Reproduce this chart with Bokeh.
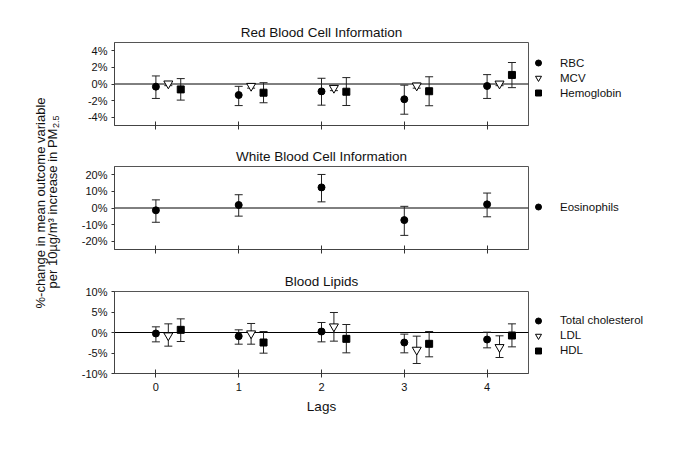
import math
from bokeh.plotting import figure
from bokeh.models import (ColumnDataSource, Whisker, TeeHead, Span, FixedTicker,
                          PrintfTickFormatter, Legend, LegendItem, Label,
                          CustomLabelingPolicy)
from bokeh.transform import dodge
from bokeh.layouts import row, column
from bokeh.embed import file_html
from bokeh.resources import INLINE

FONT = "Liberation Sans"

# ---------------- data ----------------
lags = [0, 1, 2, 3, 4]
lag_labels = ["0", "1", "2", "3", "4"]

rbc = [-0.32, -1.33, -0.89, -1.84, -0.24]
rbc_lo = [-1.74, -2.60, -2.55, -3.64, -1.74]
rbc_hi = [0.97, -0.28, 0.69, -0.14, 1.13]
mcv = [0.05, -0.24, -0.48, -0.20, 0.04]
mcv_lo = [-0.20, -0.50, -0.80, -0.50, -0.20]
mcv_hi = [0.30, 0.05, -0.20, 0.10, 0.25]
hgb = [-0.65, -1.05, -0.93, -0.87, 1.09]
hgb_lo = [-1.94, -2.26, -2.59, -2.62, -0.44]
hgb_hi = [0.65, 0.16, 0.77, 0.87, 2.59]

eos = [-1.4, 1.8, 12.4, -7.3, 2.2]
eos_lo = [-8.6, -4.9, 3.7, -16.5, -5.3]
eos_hi = [4.9, 8.0, 20.2, 1.0, 9.0]

tc = [-0.24, -0.90, 0.24, -2.44, -1.71]
tc_lo = [-2.28, -2.85, -2.28, -4.96, -3.74]
tc_hi = [1.38, 0.65, 2.44, -0.40, 0.08]
ldl = [-0.73, -0.24, 1.46, -4.23, -3.58]
ldl_lo = [-3.33, -2.85, -2.11, -7.56, -6.10]
ldl_hi = [2.11, 2.20, 4.88, -0.89, -0.81]
hdl = [0.65, -2.44, -1.55, -2.76, -0.73]
hdl_lo = [-2.20, -5.04, -4.96, -5.93, -3.50]
hdl_hi = [3.33, 0.24, 1.95, 0.24, 2.11]

rbc_ticks = [-4, -2, 0, 2, 4]
wbc_ticks = [-20, -10, 0, 10, 20]
lip_ticks = [-10, -5, 0, 5, 10]

MARKERS = ["circle", "inverted_triangle", "square"]
SHIFT = [0.0, 0.15, 0.30]
SIZES = [7, 9, 7]
FILLS = ["black", "white", "black"]

FRAME_W = 414
RIGHT = 140


def make_panel(title, yrange, yticks, series, left, top, bottom, frame_h,
               show_labels, legend_vy):
    p = figure(frame_width=FRAME_W, frame_height=frame_h,
               x_range=(-0.5, 4.5), y_range=yrange,
               output_backend="svg", toolbar_location=None,
               min_border_left=left, min_border_right=RIGHT,
               min_border_top=top, min_border_bottom=bottom)
    p.title.text = title
    p.title.align = "center"
    p.title.text_font = FONT
    p.title.text_font_size = "13.5px"
    p.title.text_font_style = "normal"
    p.title.text_color = "#111111"
    p.title.standoff = 6

    p.grid.visible = False
    p.outline_line_color = "#555555"
    p.outline_line_width = 1

    p.add_layout(Span(location=0, dimension="width", line_color="black",
                      line_width=1, level="underlay"))

    items = []
    for i, (name, vals, lo, hi) in enumerate(series):
        src = ColumnDataSource(dict(lag=lags, v=vals, lo=lo, hi=hi))
        w = Whisker(base=dodge("lag", SHIFT[i]), upper="hi", lower="lo",
                    source=src, dimension="height", line_color="#222222",
                    line_width=1, level="underlay",
                    upper_head=TeeHead(size=8, line_color="#222222", line_width=1),
                    lower_head=TeeHead(size=8, line_color="#222222", line_width=1))
        p.add_layout(w)
        r = p.scatter(x=dodge("lag", SHIFT[i]), y="v", source=src,
                      marker=MARKERS[i], size=SIZES[i], fill_color=FILLS[i],
                      line_color="black", line_width=1)
        items.append(LegendItem(label=name, renderers=[r]))

    leg = Legend(items=items, location=(0, legend_vy), padding=4, margin=0,
                 spacing=0, glyph_width=20, glyph_height=15, label_height=15,
                 label_standoff=12, border_line_color=None,
                 background_fill_alpha=0, label_text_font=FONT,
                 label_text_font_size="11.5px", label_text_color="#111111")
    p.add_layout(leg, "right")

    xa = p.xaxis[0]
    xa.ticker = FixedTicker(ticks=lags)
    xa.major_label_overrides = {l: t for l, t in zip(lags, lag_labels)}
    xa.major_tick_in = 4
    xa.major_tick_out = 4
    xa.minor_tick_line_color = None
    xa.axis_line_color = "#444444"
    xa.major_tick_line_color = "#333333"
    xa.major_label_text_font = FONT
    xa.major_label_text_font_size = "11px"
    xa.major_label_text_color = "#111111"
    if show_labels:
        xa.major_label_standoff = 5
        xa.axis_label = "Lags"
        xa.axis_label_text_font = FONT
        xa.axis_label_text_font_size = "13.5px"
        xa.axis_label_text_font_style = "normal"
        xa.axis_label_standoff = 5
        xa.axis_label_text_color = "#111111"
    else:
        # tick marks only, no labels on the upper panels
        xa.major_label_text_font_size = "1px"
        xa.major_label_standoff = 0
        xa.major_label_policy = CustomLabelingPolicy(code="return new Set()")

    ya = p.yaxis[0]
    ya.ticker = FixedTicker(ticks=yticks)
    ya.formatter = PrintfTickFormatter(format="%d%%")
    ya.major_tick_in = 0
    ya.major_tick_out = 3
    ya.minor_tick_line_color = None
    ya.axis_line_color = "#444444"
    ya.major_tick_line_color = "#333333"
    ya.major_label_text_font = FONT
    ya.major_label_text_font_size = "11px"
    ya.major_label_text_color = "#111111"
    ya.major_label_standoff = 4
    return p


p1 = make_panel("Red Blood Cell Information", (-5, 5), rbc_ticks,
                [("RBC", rbc, rbc_lo, rbc_hi), ("MCV", mcv, mcv_lo, mcv_hi),
                 ("Hemoglobin", hgb, hgb_lo, hgb_hi)],
                left=45, top=42, bottom=10, frame_h=83, show_labels=False,
                legend_vy=25)
p2 = make_panel("White Blood Cell Information", (-25, 25), wbc_ticks,
                [("Eosinophils", eos, eos_lo, eos_hi)],
                left=45, top=31, bottom=10, frame_h=83, show_labels=False,
                legend_vy=35)
p3 = make_panel("Blood Lipids", (-10, 10), lip_ticks,
                [("Total cholesterol", tc, tc_lo, tc_hi), ("LDL", ldl, ldl_lo, ldl_hi),
                 ("HDL", hdl, hdl_lo, hdl_hi)],
                left=46, top=32, bottom=45, frame_h=82, show_labels=True,
                legend_vy=15.5)

TOTAL_H = (42 + 83 + 10) + (31 + 83 + 10) + (32 + 82 + 45)
lab = figure(width=68, height=TOTAL_H, x_range=(0, 68), y_range=(0, TOTAL_H),
             output_backend="svg", toolbar_location=None,
             x_axis_location=None, y_axis_location=None, min_border=0)
lab.grid.visible = False
lab.outline_line_color = None

# page y -> label-figure y
def py(page_y):
    return TOTAL_H - page_y

line1 = "%-change in mean outcome variable"
line2 = "per 10\u00b5g/m\u00b3 increase in PM"
sub = "2.5"
lab.add_layout(Label(x=39.5, y=py(308), text=line1, angle=math.pi / 2,
                     text_align="left", text_baseline="middle",
                     text_font=FONT, text_font_size="13px", text_color="#111111"))
lab.add_layout(Label(x=52, y=py(288), text=line2, angle=math.pi / 2,
                     text_align="left", text_baseline="middle",
                     text_font=FONT, text_font_size="13px", text_color="#111111"))
lab.add_layout(Label(x=55.5, y=py(288 - 160.5), text=sub, angle=math.pi / 2,
                     text_align="left", text_baseline="middle",
                     text_font=FONT, text_font_size="9px", text_color="#111111"))

layout = row(lab, column(p1, p2, p3))

with open("out.html", "w") as f:
    f.write(file_html(layout, INLINE))
